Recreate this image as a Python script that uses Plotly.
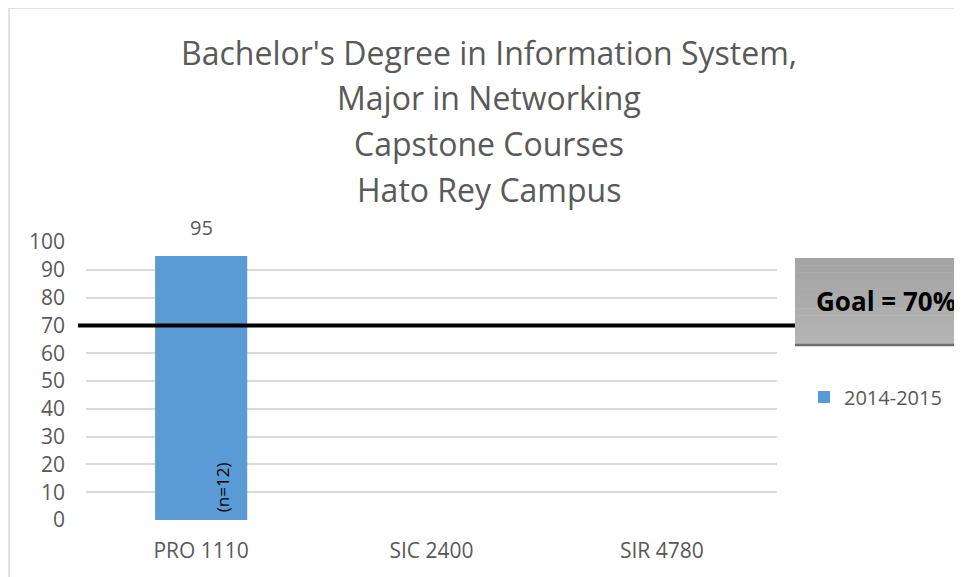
import plotly.graph_objects as go

# ---- data ----
categories = ["PRO 1110", "SIC 2400", "SIR 4780"]
values_2014_2015 = [95, None, None]
n_counts = [12, None, None]
series_name = "2014-2015"
goal_value = 70
goal_label = "Goal = 70%"
title_lines = [
    "Bachelor's Degree in Information System,",
    "Major in Networking",
    "Capstone Courses",
    "Hato Rey Campus",
]
y_ticks = list(range(0, 101, 10))

# ---- layout geometry (pixels; page has an 8px body margin) ----
W, H = 954, 569
ML, MR, MT, MB = 78, 185, 234, 57
PW = W - ML - MR
PH = H - MT - MB


def px_x(p):
    # reference-image pixel -> paper coordinate
    return (p - 8 - ML) / PW


def px_y(p):
    return (H - MB - (p - 8)) / PH


TEXT = "#595959"
FONT = "Open Sans"

fig = go.Figure()
fig.add_trace(go.Bar(
    x=categories,
    y=values_2014_2015,
    name=series_name,
    marker=dict(color="#5B9BD5", line=dict(width=0)),
    showlegend=True,
    hoverinfo="x+y",
))

annotations = []
# title lines
title_y_px = [52, 98, 143, 189]
for line, ypx in zip(title_lines, title_y_px):
    annotations.append(dict(
        text=line, xref="paper", yref="paper", x=px_x(489), y=px_y(ypx),
        xanchor="center", yanchor="middle", showarrow=False,
        font=dict(family=FONT, size=32, color=TEXT),
    ))

# value labels and n labels
for cat, v, n in zip(categories, values_2014_2015, n_counts):
    if v is not None:
        annotations.append(dict(
            text=str(v), x=cat, y=v, xref="x", yref="y",
            xanchor="center", yanchor="bottom", yshift=13, showarrow=False,
            font=dict(family=FONT, size=20, color=TEXT),
        ))
    if n is not None:
        annotations.append(dict(
            text=f"(n={n})", x=cat, y=0, xref="x", yref="y",
            xanchor="center", yanchor="bottom", xshift=21, yshift=6,
            textangle=-90, showarrow=False,
            font=dict(family=FONT, size=17, color="#000000"),
        ))

shapes = []
# outer chart frame
shapes.append(dict(
    type="rect", xref="paper", yref="paper",
    x0=px_x(9), x1=px_x(1010), y0=px_y(640), y1=px_y(8),
    line=dict(color="#d9d9d9", width=1.5), fillcolor="rgba(0,0,0,0)",
    layer="below",
))
# goal line
shapes.append(dict(
    type="line", xref="paper", yref="y",
    x0=px_x(78), x1=px_x(800), y0=goal_value, y1=goal_value,
    line=dict(color="#000000", width=4), layer="above",
))
# goal box with faux gradient
box_x0, box_x1 = px_x(795), px_x(1000)
top_px, bot_px = 258, 344
nb = 12
c_top, c_bot = 0xA4, 0xB4
for i in range(nb):
    y0p = top_px + (bot_px - top_px) * i / nb
    y1p = top_px + (bot_px - top_px) * (i + 1) / nb
    c = int(c_top + (c_bot - c_top) * i / (nb - 1))
    shapes.append(dict(
        type="rect", xref="paper", yref="paper",
        x0=box_x0, x1=box_x1, y0=px_y(y1p + 0.5), y1=px_y(y0p),
        fillcolor=f"rgb({c},{c},{c})", line=dict(width=0), layer="above",
    ))
shapes.append(dict(
    type="line", xref="paper", yref="paper",
    x0=box_x0, x1=box_x1, y0=px_y(345), y1=px_y(345),
    line=dict(color="#6e6e6e", width=2.5), layer="above",
))
annotations.append(dict(
    text=f"<b>{goal_label}</b>", xref="paper", yref="paper",
    x=px_x(814), y=px_y(301), xanchor="left", yanchor="middle",
    showarrow=False, font=dict(family=FONT, size=26, color="#000000"),
))

fig.update_layout(
    width=W, height=H,
    margin=dict(l=ML, r=MR, t=MT, b=MB, autoexpand=False),
    paper_bgcolor="white", plot_bgcolor="white",
    bargap=0.6,
    font=dict(family=FONT, color=TEXT),
    xaxis=dict(
        showgrid=False, showline=False, zeroline=False, ticks="",
        tickfont=dict(family=FONT, size=21, color=TEXT),
        ticklabelstandoff=16,
    ),
    yaxis=dict(
        range=[0, 100], tickvals=y_ticks, showline=False, zeroline=False,
        gridcolor="#d9d9d9", gridwidth=1.5, ticks="",
        tickfont=dict(family=FONT, size=21, color=TEXT),
        ticklabelstandoff=20,
    ),
    legend=dict(
        x=px_x(804), y=px_y(397), xanchor="left", yanchor="middle",
        font=dict(family=FONT, size=20, color=TEXT),
        bgcolor="rgba(0,0,0,0)",
    ),
    shapes=shapes,
    annotations=annotations,
)

fig.write_html("out.html")
